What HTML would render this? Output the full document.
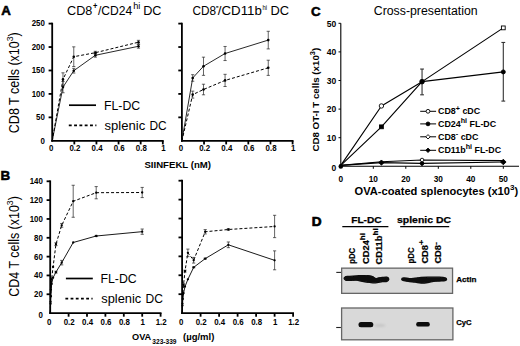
<!DOCTYPE html>
<html><head><meta charset="utf-8"><style>
html,body{margin:0;padding:0;background:#fff;}
body{width:520px;height:346px;overflow:hidden;font-family:"Liberation Sans", sans-serif;}
svg{display:block;}
</style></head><body>
<svg width="520" height="346" viewBox="0 0 520 346">
<g font-family='"Liberation Sans", sans-serif' fill="#000">
<text x="1.20" y="14.50" font-size="13.3" font-weight="bold" text-anchor="start" stroke="#000" stroke-width="0.55">A</text>
<text x="0.50" y="179.80" font-size="13.4" font-weight="bold" text-anchor="start" stroke="#000" stroke-width="0.55">B</text>
<text x="311.00" y="15.70" font-size="13.3" font-weight="bold" text-anchor="start" stroke="#000" stroke-width="0.55">C</text>
<text x="311.70" y="225.60" font-size="13.6" font-weight="bold" text-anchor="start" stroke="#000" stroke-width="0.7">D</text>
<line x1="52.20" y1="141.70" x2="52.20" y2="22.70" stroke="#000" stroke-width="1.8"/>
<line x1="51.30" y1="140.80" x2="163.70" y2="140.80" stroke="#000" stroke-width="1.8"/>
<line x1="48.60" y1="117.36" x2="52.20" y2="117.36" stroke="#000" stroke-width="1.8"/>
<line x1="48.60" y1="93.92" x2="52.20" y2="93.92" stroke="#000" stroke-width="1.8"/>
<line x1="48.60" y1="70.48" x2="52.20" y2="70.48" stroke="#000" stroke-width="1.8"/>
<line x1="48.60" y1="47.04" x2="52.20" y2="47.04" stroke="#000" stroke-width="1.8"/>
<line x1="48.60" y1="23.60" x2="52.20" y2="23.60" stroke="#000" stroke-width="1.8"/>
<line x1="74.32" y1="140.80" x2="74.32" y2="144.40" stroke="#000" stroke-width="1.8"/>
<line x1="96.44" y1="140.80" x2="96.44" y2="144.40" stroke="#000" stroke-width="1.8"/>
<line x1="118.56" y1="140.80" x2="118.56" y2="144.40" stroke="#000" stroke-width="1.8"/>
<line x1="140.68" y1="140.80" x2="140.68" y2="144.40" stroke="#000" stroke-width="1.8"/>
<line x1="162.80" y1="140.80" x2="162.80" y2="144.40" stroke="#000" stroke-width="1.8"/>
<text x="0.00" y="0.00" font-size="7.9" font-weight="bold" text-anchor="end" transform="translate(44.90,143.50) scale(1,1.1)">0</text>
<text x="0.00" y="0.00" font-size="7.9" font-weight="bold" text-anchor="end" transform="translate(44.90,120.06) scale(1,1.1)">50</text>
<text x="0.00" y="0.00" font-size="7.9" font-weight="bold" text-anchor="end" transform="translate(44.90,96.62) scale(1,1.1)">100</text>
<text x="0.00" y="0.00" font-size="7.9" font-weight="bold" text-anchor="end" transform="translate(44.90,73.18) scale(1,1.1)">150</text>
<text x="0.00" y="0.00" font-size="7.9" font-weight="bold" text-anchor="end" transform="translate(44.90,49.74) scale(1,1.1)">200</text>
<text x="0.00" y="0.00" font-size="7.9" font-weight="bold" text-anchor="end" transform="translate(44.90,26.30) scale(1,1.1)">250</text>
<text x="0.00" y="0.00" font-size="7.9" font-weight="bold" text-anchor="middle" transform="translate(51.20,150.80) scale(1,1.1)">0</text>
<text x="0.00" y="0.00" font-size="7.9" font-weight="bold" text-anchor="middle" transform="translate(74.92,150.80) scale(1,1.1)">0.2</text>
<text x="0.00" y="0.00" font-size="7.9" font-weight="bold" text-anchor="middle" transform="translate(97.04,150.80) scale(1,1.1)">0.4</text>
<text x="0.00" y="0.00" font-size="7.9" font-weight="bold" text-anchor="middle" transform="translate(119.16,150.80) scale(1,1.1)">0.6</text>
<text x="0.00" y="0.00" font-size="7.9" font-weight="bold" text-anchor="middle" transform="translate(141.28,150.80) scale(1,1.1)">0.8</text>
<text x="0.00" y="0.00" font-size="7.9" font-weight="bold" text-anchor="middle" transform="translate(163.40,150.80) scale(1,1.1)">1</text>
<line x1="181.90" y1="141.70" x2="181.90" y2="22.70" stroke="#000" stroke-width="1.8"/>
<line x1="181.00" y1="140.80" x2="293.50" y2="140.80" stroke="#000" stroke-width="1.8"/>
<line x1="178.30" y1="117.36" x2="181.90" y2="117.36" stroke="#000" stroke-width="1.8"/>
<line x1="178.30" y1="93.92" x2="181.90" y2="93.92" stroke="#000" stroke-width="1.8"/>
<line x1="178.30" y1="70.48" x2="181.90" y2="70.48" stroke="#000" stroke-width="1.8"/>
<line x1="178.30" y1="47.04" x2="181.90" y2="47.04" stroke="#000" stroke-width="1.8"/>
<line x1="178.30" y1="23.60" x2="181.90" y2="23.60" stroke="#000" stroke-width="1.8"/>
<line x1="204.04" y1="140.80" x2="204.04" y2="144.40" stroke="#000" stroke-width="1.8"/>
<line x1="226.18" y1="140.80" x2="226.18" y2="144.40" stroke="#000" stroke-width="1.8"/>
<line x1="248.32" y1="140.80" x2="248.32" y2="144.40" stroke="#000" stroke-width="1.8"/>
<line x1="270.46" y1="140.80" x2="270.46" y2="144.40" stroke="#000" stroke-width="1.8"/>
<line x1="292.60" y1="140.80" x2="292.60" y2="144.40" stroke="#000" stroke-width="1.8"/>
<text x="0.00" y="0.00" font-size="7.9" font-weight="bold" text-anchor="middle" transform="translate(180.90,150.80) scale(1,1.1)">0</text>
<text x="0.00" y="0.00" font-size="7.9" font-weight="bold" text-anchor="middle" transform="translate(204.64,150.80) scale(1,1.1)">0.2</text>
<text x="0.00" y="0.00" font-size="7.9" font-weight="bold" text-anchor="middle" transform="translate(226.78,150.80) scale(1,1.1)">0.4</text>
<text x="0.00" y="0.00" font-size="7.9" font-weight="bold" text-anchor="middle" transform="translate(248.92,150.80) scale(1,1.1)">0.6</text>
<text x="0.00" y="0.00" font-size="7.9" font-weight="bold" text-anchor="middle" transform="translate(271.06,150.80) scale(1,1.1)">0.8</text>
<text x="0.00" y="0.00" font-size="7.9" font-weight="bold" text-anchor="middle" transform="translate(293.20,150.80) scale(1,1.1)">1</text>
<polyline points="52.20,140.80 62.98,87.12 73.77,70.71 95.33,55.29 138.47,46.29" fill="none" stroke="#111" stroke-width="0.9" stroke-linejoin="round"/>
<polyline points="52.20,140.80 62.98,79.39 73.77,56.70 95.33,52.71 138.47,42.21" fill="none" stroke="#000" stroke-width="1.0" stroke-dasharray="3.0,2.0" stroke-linejoin="round"/>
<line x1="62.98" y1="81.50" x2="62.98" y2="92.75" stroke="#222" stroke-width="0.7"/>
<line x1="61.38" y1="81.50" x2="64.58" y2="81.50" stroke="#222" stroke-width="0.7"/>
<line x1="61.38" y1="92.75" x2="64.58" y2="92.75" stroke="#222" stroke-width="0.7"/>
<circle cx="62.98" cy="87.12" r="1.3" fill="#000"/>
<line x1="73.77" y1="68.37" x2="73.77" y2="73.06" stroke="#222" stroke-width="0.7"/>
<line x1="72.17" y1="68.37" x2="75.37" y2="68.37" stroke="#222" stroke-width="0.7"/>
<line x1="72.17" y1="73.06" x2="75.37" y2="73.06" stroke="#222" stroke-width="0.7"/>
<circle cx="73.77" cy="70.71" r="1.3" fill="#000"/>
<line x1="95.33" y1="53.42" x2="95.33" y2="57.17" stroke="#222" stroke-width="0.7"/>
<line x1="93.73" y1="53.42" x2="96.93" y2="53.42" stroke="#222" stroke-width="0.7"/>
<line x1="93.73" y1="57.17" x2="96.93" y2="57.17" stroke="#222" stroke-width="0.7"/>
<circle cx="95.33" cy="55.29" r="1.3" fill="#000"/>
<line x1="138.47" y1="44.41" x2="138.47" y2="48.17" stroke="#222" stroke-width="0.7"/>
<line x1="136.87" y1="44.41" x2="140.07" y2="44.41" stroke="#222" stroke-width="0.7"/>
<line x1="136.87" y1="48.17" x2="140.07" y2="48.17" stroke="#222" stroke-width="0.7"/>
<circle cx="138.47" cy="46.29" r="1.3" fill="#000"/>
<line x1="62.98" y1="72.82" x2="62.98" y2="85.95" stroke="#222" stroke-width="0.7"/>
<line x1="61.38" y1="72.82" x2="64.58" y2="72.82" stroke="#222" stroke-width="0.7"/>
<line x1="61.38" y1="85.95" x2="64.58" y2="85.95" stroke="#222" stroke-width="0.7"/>
<circle cx="62.98" cy="79.39" r="1.3" fill="#000"/>
<line x1="73.77" y1="46.85" x2="73.77" y2="66.54" stroke="#222" stroke-width="0.7"/>
<line x1="72.17" y1="46.85" x2="75.37" y2="46.85" stroke="#222" stroke-width="0.7"/>
<line x1="72.17" y1="66.54" x2="75.37" y2="66.54" stroke="#222" stroke-width="0.7"/>
<circle cx="73.77" cy="56.70" r="1.3" fill="#000"/>
<line x1="95.33" y1="51.31" x2="95.33" y2="54.12" stroke="#222" stroke-width="0.7"/>
<line x1="93.73" y1="51.31" x2="96.93" y2="51.31" stroke="#222" stroke-width="0.7"/>
<line x1="93.73" y1="54.12" x2="96.93" y2="54.12" stroke="#222" stroke-width="0.7"/>
<circle cx="95.33" cy="52.71" r="1.3" fill="#000"/>
<line x1="138.47" y1="40.34" x2="138.47" y2="44.09" stroke="#222" stroke-width="0.7"/>
<line x1="136.87" y1="40.34" x2="140.07" y2="40.34" stroke="#222" stroke-width="0.7"/>
<line x1="136.87" y1="44.09" x2="140.07" y2="44.09" stroke="#222" stroke-width="0.7"/>
<circle cx="138.47" cy="42.21" r="1.3" fill="#000"/>
<polyline points="181.90,140.80 192.69,77.98 203.49,66.26 225.07,53.51 268.25,40.10" fill="none" stroke="#111" stroke-width="0.9" stroke-linejoin="round"/>
<polyline points="181.90,140.80 192.69,94.62 203.49,89.51 225.07,80.42 268.25,67.81" fill="none" stroke="#000" stroke-width="1.0" stroke-dasharray="3.0,2.0" stroke-linejoin="round"/>
<line x1="192.69" y1="74.70" x2="192.69" y2="81.26" stroke="#222" stroke-width="0.7"/>
<line x1="191.09" y1="74.70" x2="194.29" y2="74.70" stroke="#222" stroke-width="0.7"/>
<line x1="191.09" y1="81.26" x2="194.29" y2="81.26" stroke="#222" stroke-width="0.7"/>
<circle cx="192.69" cy="77.98" r="1.3" fill="#000"/>
<line x1="203.49" y1="57.17" x2="203.49" y2="75.36" stroke="#222" stroke-width="0.7"/>
<line x1="201.89" y1="57.17" x2="205.09" y2="57.17" stroke="#222" stroke-width="0.7"/>
<line x1="201.89" y1="75.36" x2="205.09" y2="75.36" stroke="#222" stroke-width="0.7"/>
<circle cx="203.49" cy="66.26" r="1.3" fill="#000"/>
<line x1="225.07" y1="46.48" x2="225.07" y2="60.54" stroke="#222" stroke-width="0.7"/>
<line x1="223.47" y1="46.48" x2="226.67" y2="46.48" stroke="#222" stroke-width="0.7"/>
<line x1="223.47" y1="60.54" x2="226.67" y2="60.54" stroke="#222" stroke-width="0.7"/>
<circle cx="225.07" cy="53.51" r="1.3" fill="#000"/>
<line x1="268.25" y1="31.29" x2="268.25" y2="48.92" stroke="#222" stroke-width="0.7"/>
<line x1="266.65" y1="31.29" x2="269.85" y2="31.29" stroke="#222" stroke-width="0.7"/>
<line x1="266.65" y1="48.92" x2="269.85" y2="48.92" stroke="#222" stroke-width="0.7"/>
<circle cx="268.25" cy="40.10" r="1.3" fill="#000"/>
<line x1="192.69" y1="91.11" x2="192.69" y2="98.14" stroke="#222" stroke-width="0.7"/>
<line x1="191.09" y1="91.11" x2="194.29" y2="91.11" stroke="#222" stroke-width="0.7"/>
<line x1="191.09" y1="98.14" x2="194.29" y2="98.14" stroke="#222" stroke-width="0.7"/>
<circle cx="192.69" cy="94.62" r="1.3" fill="#000"/>
<line x1="203.49" y1="84.22" x2="203.49" y2="94.81" stroke="#222" stroke-width="0.7"/>
<line x1="201.89" y1="84.22" x2="205.09" y2="84.22" stroke="#222" stroke-width="0.7"/>
<line x1="201.89" y1="94.81" x2="205.09" y2="94.81" stroke="#222" stroke-width="0.7"/>
<circle cx="203.49" cy="89.51" r="1.3" fill="#000"/>
<line x1="225.07" y1="74.32" x2="225.07" y2="86.51" stroke="#222" stroke-width="0.7"/>
<line x1="223.47" y1="74.32" x2="226.67" y2="74.32" stroke="#222" stroke-width="0.7"/>
<line x1="223.47" y1="86.51" x2="226.67" y2="86.51" stroke="#222" stroke-width="0.7"/>
<circle cx="225.07" cy="80.42" r="1.3" fill="#000"/>
<line x1="268.25" y1="60.21" x2="268.25" y2="75.40" stroke="#222" stroke-width="0.7"/>
<line x1="266.65" y1="60.21" x2="269.85" y2="60.21" stroke="#222" stroke-width="0.7"/>
<line x1="266.65" y1="75.40" x2="269.85" y2="75.40" stroke="#222" stroke-width="0.7"/>
<circle cx="268.25" cy="67.81" r="1.3" fill="#000"/>
<text x="67.10" y="14.50" font-size="12.9" font-weight="normal" text-anchor="start" textLength="25.3" lengthAdjust="spacingAndGlyphs" >CD8</text>
<text x="92.90" y="8.80" font-size="8.6" font-weight="bold" text-anchor="start" textLength="4.4" lengthAdjust="spacingAndGlyphs" >+</text>
<text x="98.00" y="14.50" font-size="12.9" font-weight="normal" text-anchor="start" textLength="34.3" lengthAdjust="spacingAndGlyphs" >/CD24</text>
<text x="133.20" y="8.80" font-size="8.8" font-weight="normal" text-anchor="start" textLength="7.2" lengthAdjust="spacingAndGlyphs" >hi</text>
<text x="143.20" y="14.50" font-size="12.9" font-weight="normal" text-anchor="start" textLength="18.3" lengthAdjust="spacingAndGlyphs" >DC</text>
<text x="192.40" y="14.50" font-size="12.9" font-weight="normal" text-anchor="start" textLength="23.6" lengthAdjust="spacingAndGlyphs" >CD8</text>
<line x1="216.20" y1="6.90" x2="218.40" y2="6.90" stroke="#000" stroke-width="1.2"/>
<text x="217.80" y="14.50" font-size="12.9" font-weight="normal" text-anchor="start" textLength="44.0" lengthAdjust="spacingAndGlyphs" >/CD11b</text>
<text x="262.50" y="10.00" font-size="6.8" font-weight="normal" text-anchor="start" textLength="4.6" lengthAdjust="spacingAndGlyphs" >hi</text>
<text x="270.50" y="14.50" font-size="12.9" font-weight="normal" text-anchor="start" textLength="18.6" lengthAdjust="spacingAndGlyphs" >DC</text>
<text x="0.00" y="0.00" font-size="12.5" font-weight="normal" text-anchor="middle" transform="translate(18.6,82.7) rotate(-90) scale(1,1.13)">CD8 T cells (x10<tspan dy="-5" font-size="8.8">3</tspan><tspan dy="5">)</tspan></text>
<text x="144.40" y="167.80" font-size="9.4" font-weight="bold" text-anchor="start" textLength="66.6" lengthAdjust="spacingAndGlyphs">SIINFEKL (nM)</text>
<line x1="69.00" y1="105.20" x2="96.00" y2="105.20" stroke="#000" stroke-width="1.7"/>
<line x1="68.80" y1="125.30" x2="96.40" y2="125.30" stroke="#000" stroke-width="1.7" stroke-dasharray="2.9,2.4"/>
<text x="104.00" y="110.10" font-size="12.3" font-weight="normal" text-anchor="start" >FL-DC</text>
<text x="104.60" y="130.20" font-size="12.3" font-weight="normal" text-anchor="start" textLength="40.6" lengthAdjust="spacingAndGlyphs">splenic</text>
<text x="149.40" y="130.20" font-size="12.3" font-weight="normal" text-anchor="start" textLength="17.2" lengthAdjust="spacingAndGlyphs">DC</text>
<line x1="50.20" y1="314.00" x2="50.20" y2="180.40" stroke="#000" stroke-width="1.8"/>
<line x1="49.30" y1="313.10" x2="161.50" y2="313.10" stroke="#000" stroke-width="1.8"/>
<line x1="46.60" y1="294.27" x2="50.20" y2="294.27" stroke="#000" stroke-width="1.8"/>
<line x1="46.60" y1="275.44" x2="50.20" y2="275.44" stroke="#000" stroke-width="1.8"/>
<line x1="46.60" y1="256.62" x2="50.20" y2="256.62" stroke="#000" stroke-width="1.8"/>
<line x1="46.60" y1="237.79" x2="50.20" y2="237.79" stroke="#000" stroke-width="1.8"/>
<line x1="46.60" y1="218.96" x2="50.20" y2="218.96" stroke="#000" stroke-width="1.8"/>
<line x1="46.60" y1="200.13" x2="50.20" y2="200.13" stroke="#000" stroke-width="1.8"/>
<line x1="46.60" y1="181.30" x2="50.20" y2="181.30" stroke="#000" stroke-width="1.8"/>
<line x1="68.60" y1="313.10" x2="68.60" y2="316.70" stroke="#000" stroke-width="1.8"/>
<line x1="87.00" y1="313.10" x2="87.00" y2="316.70" stroke="#000" stroke-width="1.8"/>
<line x1="105.40" y1="313.10" x2="105.40" y2="316.70" stroke="#000" stroke-width="1.8"/>
<line x1="123.80" y1="313.10" x2="123.80" y2="316.70" stroke="#000" stroke-width="1.8"/>
<line x1="142.20" y1="313.10" x2="142.20" y2="316.70" stroke="#000" stroke-width="1.8"/>
<line x1="160.60" y1="313.10" x2="160.60" y2="316.70" stroke="#000" stroke-width="1.8"/>
<text x="0.00" y="0.00" font-size="7.9" font-weight="bold" text-anchor="end" transform="translate(42.90,318.10) scale(1,1.1)">0</text>
<text x="0.00" y="0.00" font-size="7.9" font-weight="bold" text-anchor="end" transform="translate(42.90,297.27) scale(1,1.1)">20</text>
<text x="0.00" y="0.00" font-size="7.9" font-weight="bold" text-anchor="end" transform="translate(42.90,278.44) scale(1,1.1)">40</text>
<text x="0.00" y="0.00" font-size="7.9" font-weight="bold" text-anchor="end" transform="translate(42.90,259.62) scale(1,1.1)">60</text>
<text x="0.00" y="0.00" font-size="7.9" font-weight="bold" text-anchor="end" transform="translate(42.90,240.79) scale(1,1.1)">80</text>
<text x="0.00" y="0.00" font-size="7.9" font-weight="bold" text-anchor="end" transform="translate(42.90,221.96) scale(1,1.1)">100</text>
<text x="0.00" y="0.00" font-size="7.9" font-weight="bold" text-anchor="end" transform="translate(42.90,203.13) scale(1,1.1)">120</text>
<text x="0.00" y="0.00" font-size="7.9" font-weight="bold" text-anchor="end" transform="translate(42.90,184.30) scale(1,1.1)">140</text>
<text x="0.00" y="0.00" font-size="7.9" font-weight="bold" text-anchor="middle" transform="translate(49.20,325.10) scale(1,1.1)">0</text>
<text x="0.00" y="0.00" font-size="7.9" font-weight="bold" text-anchor="middle" transform="translate(69.20,325.10) scale(1,1.1)">0.2</text>
<text x="0.00" y="0.00" font-size="7.9" font-weight="bold" text-anchor="middle" transform="translate(87.60,325.10) scale(1,1.1)">0.4</text>
<text x="0.00" y="0.00" font-size="7.9" font-weight="bold" text-anchor="middle" transform="translate(106.00,325.10) scale(1,1.1)">0.6</text>
<text x="0.00" y="0.00" font-size="7.9" font-weight="bold" text-anchor="middle" transform="translate(124.40,325.10) scale(1,1.1)">0.8</text>
<text x="0.00" y="0.00" font-size="7.9" font-weight="bold" text-anchor="middle" transform="translate(142.80,325.10) scale(1,1.1)">1</text>
<text x="0.00" y="0.00" font-size="7.9" font-weight="bold" text-anchor="middle" transform="translate(161.20,325.10) scale(1,1.1)">1.2</text>
<line x1="182.10" y1="314.00" x2="182.10" y2="179.80" stroke="#000" stroke-width="1.8"/>
<line x1="181.20" y1="313.10" x2="294.00" y2="313.10" stroke="#000" stroke-width="1.8"/>
<line x1="178.50" y1="294.19" x2="182.10" y2="294.19" stroke="#000" stroke-width="1.8"/>
<line x1="178.50" y1="275.27" x2="182.10" y2="275.27" stroke="#000" stroke-width="1.8"/>
<line x1="178.50" y1="256.36" x2="182.10" y2="256.36" stroke="#000" stroke-width="1.8"/>
<line x1="178.50" y1="237.44" x2="182.10" y2="237.44" stroke="#000" stroke-width="1.8"/>
<line x1="178.50" y1="218.53" x2="182.10" y2="218.53" stroke="#000" stroke-width="1.8"/>
<line x1="178.50" y1="199.62" x2="182.10" y2="199.62" stroke="#000" stroke-width="1.8"/>
<line x1="178.50" y1="180.70" x2="182.10" y2="180.70" stroke="#000" stroke-width="1.8"/>
<line x1="200.60" y1="313.10" x2="200.60" y2="316.70" stroke="#000" stroke-width="1.8"/>
<line x1="219.10" y1="313.10" x2="219.10" y2="316.70" stroke="#000" stroke-width="1.8"/>
<line x1="237.60" y1="313.10" x2="237.60" y2="316.70" stroke="#000" stroke-width="1.8"/>
<line x1="256.10" y1="313.10" x2="256.10" y2="316.70" stroke="#000" stroke-width="1.8"/>
<line x1="274.60" y1="313.10" x2="274.60" y2="316.70" stroke="#000" stroke-width="1.8"/>
<line x1="293.10" y1="313.10" x2="293.10" y2="316.70" stroke="#000" stroke-width="1.8"/>
<text x="0.00" y="0.00" font-size="7.9" font-weight="bold" text-anchor="middle" transform="translate(181.10,325.10) scale(1,1.1)">0</text>
<text x="0.00" y="0.00" font-size="7.9" font-weight="bold" text-anchor="middle" transform="translate(201.20,325.10) scale(1,1.1)">0.2</text>
<text x="0.00" y="0.00" font-size="7.9" font-weight="bold" text-anchor="middle" transform="translate(219.70,325.10) scale(1,1.1)">0.4</text>
<text x="0.00" y="0.00" font-size="7.9" font-weight="bold" text-anchor="middle" transform="translate(238.20,325.10) scale(1,1.1)">0.6</text>
<text x="0.00" y="0.00" font-size="7.9" font-weight="bold" text-anchor="middle" transform="translate(256.70,325.10) scale(1,1.1)">0.8</text>
<text x="0.00" y="0.00" font-size="7.9" font-weight="bold" text-anchor="middle" transform="translate(275.20,325.10) scale(1,1.1)">1</text>
<text x="0.00" y="0.00" font-size="7.9" font-weight="bold" text-anchor="middle" transform="translate(293.70,325.10) scale(1,1.1)">1.2</text>
<polyline points="50.20,313.10 50.56,303.69 50.92,296.15 51.64,283.92 53.08,277.70 55.95,272.15 61.70,262.64 73.20,242.50 96.20,236.00 142.20,231.67" fill="none" stroke="#000" stroke-width="0.9" stroke-linejoin="round"/>
<polyline points="50.20,313.10 50.56,301.80 50.92,289.56 51.64,279.21 53.08,266.97 55.95,244.19 61.70,225.36 73.20,201.26 96.20,192.69 142.20,192.51" fill="none" stroke="#000" stroke-width="1.0" stroke-dasharray="3.0,2.0" stroke-linejoin="round"/>
<circle cx="50.56" cy="303.69" r="1.15" fill="#000"/>
<circle cx="50.92" cy="296.15" r="1.15" fill="#000"/>
<circle cx="51.64" cy="283.92" r="1.15" fill="#000"/>
<circle cx="53.08" cy="277.70" r="1.15" fill="#000"/>
<line x1="55.95" y1="271.21" x2="55.95" y2="273.09" stroke="#222" stroke-width="0.7"/>
<line x1="54.35" y1="271.21" x2="57.55" y2="271.21" stroke="#222" stroke-width="0.7"/>
<line x1="54.35" y1="273.09" x2="57.55" y2="273.09" stroke="#222" stroke-width="0.7"/>
<circle cx="55.95" cy="272.15" r="1.15" fill="#000"/>
<line x1="61.70" y1="260.38" x2="61.70" y2="264.90" stroke="#222" stroke-width="0.7"/>
<line x1="60.10" y1="260.38" x2="63.30" y2="260.38" stroke="#222" stroke-width="0.7"/>
<line x1="60.10" y1="264.90" x2="63.30" y2="264.90" stroke="#222" stroke-width="0.7"/>
<circle cx="61.70" cy="262.64" r="1.15" fill="#000"/>
<circle cx="73.20" cy="242.50" r="1.15" fill="#000"/>
<line x1="96.20" y1="235.43" x2="96.20" y2="236.56" stroke="#222" stroke-width="0.7"/>
<line x1="94.60" y1="235.43" x2="97.80" y2="235.43" stroke="#222" stroke-width="0.7"/>
<line x1="94.60" y1="236.56" x2="97.80" y2="236.56" stroke="#222" stroke-width="0.7"/>
<circle cx="96.20" cy="236.00" r="1.15" fill="#000"/>
<line x1="142.20" y1="229.03" x2="142.20" y2="234.30" stroke="#222" stroke-width="0.7"/>
<line x1="140.60" y1="229.03" x2="143.80" y2="229.03" stroke="#222" stroke-width="0.7"/>
<line x1="140.60" y1="234.30" x2="143.80" y2="234.30" stroke="#222" stroke-width="0.7"/>
<circle cx="142.20" cy="231.67" r="1.15" fill="#000"/>
<circle cx="50.56" cy="301.80" r="1.15" fill="#000"/>
<circle cx="50.92" cy="289.56" r="1.15" fill="#000"/>
<circle cx="51.64" cy="279.21" r="1.15" fill="#000"/>
<circle cx="53.08" cy="266.97" r="1.15" fill="#000"/>
<line x1="55.95" y1="242.78" x2="55.95" y2="245.60" stroke="#222" stroke-width="0.7"/>
<line x1="54.35" y1="242.78" x2="57.55" y2="242.78" stroke="#222" stroke-width="0.7"/>
<line x1="54.35" y1="245.60" x2="57.55" y2="245.60" stroke="#222" stroke-width="0.7"/>
<circle cx="55.95" cy="244.19" r="1.15" fill="#000"/>
<line x1="61.70" y1="223.48" x2="61.70" y2="227.24" stroke="#222" stroke-width="0.7"/>
<line x1="60.10" y1="223.48" x2="63.30" y2="223.48" stroke="#222" stroke-width="0.7"/>
<line x1="60.10" y1="227.24" x2="63.30" y2="227.24" stroke="#222" stroke-width="0.7"/>
<circle cx="61.70" cy="225.36" r="1.15" fill="#000"/>
<line x1="73.20" y1="185.26" x2="73.20" y2="217.27" stroke="#222" stroke-width="0.7"/>
<line x1="71.60" y1="185.26" x2="74.80" y2="185.26" stroke="#222" stroke-width="0.7"/>
<line x1="71.60" y1="217.27" x2="74.80" y2="217.27" stroke="#222" stroke-width="0.7"/>
<circle cx="73.20" cy="201.26" r="1.15" fill="#000"/>
<line x1="96.20" y1="186.58" x2="96.20" y2="198.81" stroke="#222" stroke-width="0.7"/>
<line x1="94.60" y1="186.58" x2="97.80" y2="186.58" stroke="#222" stroke-width="0.7"/>
<line x1="94.60" y1="198.81" x2="97.80" y2="198.81" stroke="#222" stroke-width="0.7"/>
<circle cx="96.20" cy="192.69" r="1.15" fill="#000"/>
<line x1="142.20" y1="187.42" x2="142.20" y2="197.59" stroke="#222" stroke-width="0.7"/>
<line x1="140.60" y1="187.42" x2="143.80" y2="187.42" stroke="#222" stroke-width="0.7"/>
<line x1="140.60" y1="197.59" x2="143.80" y2="197.59" stroke="#222" stroke-width="0.7"/>
<circle cx="142.20" cy="192.51" r="1.15" fill="#000"/>
<polyline points="182.10,313.10 182.46,305.53 182.82,298.91 183.54,293.24 184.99,286.62 187.88,279.34 193.66,267.33 205.22,258.63 228.35,244.82 274.60,260.33" fill="none" stroke="#000" stroke-width="0.9" stroke-linejoin="round"/>
<polyline points="182.10,313.10 182.46,303.64 182.82,294.19 183.54,284.73 184.99,271.11 187.88,252.86 193.66,260.24 205.22,231.77 228.35,229.50 274.60,226.47" fill="none" stroke="#000" stroke-width="1.0" stroke-dasharray="3.0,2.0" stroke-linejoin="round"/>
<circle cx="182.46" cy="305.53" r="1.15" fill="#000"/>
<circle cx="182.82" cy="298.91" r="1.15" fill="#000"/>
<circle cx="183.54" cy="293.24" r="1.15" fill="#000"/>
<circle cx="184.99" cy="286.62" r="1.15" fill="#000"/>
<circle cx="187.88" cy="279.34" r="1.15" fill="#000"/>
<line x1="193.66" y1="266.86" x2="193.66" y2="267.80" stroke="#222" stroke-width="0.7"/>
<line x1="192.06" y1="266.86" x2="195.26" y2="266.86" stroke="#222" stroke-width="0.7"/>
<line x1="192.06" y1="267.80" x2="195.26" y2="267.80" stroke="#222" stroke-width="0.7"/>
<circle cx="193.66" cy="267.33" r="1.15" fill="#000"/>
<line x1="205.22" y1="258.15" x2="205.22" y2="259.10" stroke="#222" stroke-width="0.7"/>
<line x1="203.62" y1="258.15" x2="206.82" y2="258.15" stroke="#222" stroke-width="0.7"/>
<line x1="203.62" y1="259.10" x2="206.82" y2="259.10" stroke="#222" stroke-width="0.7"/>
<circle cx="205.22" cy="258.63" r="1.15" fill="#000"/>
<line x1="228.35" y1="241.98" x2="228.35" y2="247.66" stroke="#222" stroke-width="0.7"/>
<line x1="226.75" y1="241.98" x2="229.95" y2="241.98" stroke="#222" stroke-width="0.7"/>
<line x1="226.75" y1="247.66" x2="229.95" y2="247.66" stroke="#222" stroke-width="0.7"/>
<circle cx="228.35" cy="244.82" r="1.15" fill="#000"/>
<line x1="274.60" y1="250.87" x2="274.60" y2="269.79" stroke="#222" stroke-width="0.7"/>
<line x1="273.00" y1="250.87" x2="276.20" y2="250.87" stroke="#222" stroke-width="0.7"/>
<line x1="273.00" y1="269.79" x2="276.20" y2="269.79" stroke="#222" stroke-width="0.7"/>
<circle cx="274.60" cy="260.33" r="1.15" fill="#000"/>
<circle cx="182.46" cy="303.64" r="1.15" fill="#000"/>
<circle cx="182.82" cy="294.19" r="1.15" fill="#000"/>
<line x1="183.54" y1="283.78" x2="183.54" y2="285.67" stroke="#222" stroke-width="0.7"/>
<line x1="181.94" y1="283.78" x2="185.14" y2="283.78" stroke="#222" stroke-width="0.7"/>
<line x1="181.94" y1="285.67" x2="185.14" y2="285.67" stroke="#222" stroke-width="0.7"/>
<circle cx="183.54" cy="284.73" r="1.15" fill="#000"/>
<line x1="184.99" y1="270.17" x2="184.99" y2="272.06" stroke="#222" stroke-width="0.7"/>
<line x1="183.39" y1="270.17" x2="186.59" y2="270.17" stroke="#222" stroke-width="0.7"/>
<line x1="183.39" y1="272.06" x2="186.59" y2="272.06" stroke="#222" stroke-width="0.7"/>
<circle cx="184.99" cy="271.11" r="1.15" fill="#000"/>
<line x1="187.88" y1="249.08" x2="187.88" y2="256.64" stroke="#222" stroke-width="0.7"/>
<line x1="186.28" y1="249.08" x2="189.48" y2="249.08" stroke="#222" stroke-width="0.7"/>
<line x1="186.28" y1="256.64" x2="189.48" y2="256.64" stroke="#222" stroke-width="0.7"/>
<circle cx="187.88" cy="252.86" r="1.15" fill="#000"/>
<line x1="193.66" y1="257.40" x2="193.66" y2="263.07" stroke="#222" stroke-width="0.7"/>
<line x1="192.06" y1="257.40" x2="195.26" y2="257.40" stroke="#222" stroke-width="0.7"/>
<line x1="192.06" y1="263.07" x2="195.26" y2="263.07" stroke="#222" stroke-width="0.7"/>
<circle cx="193.66" cy="260.24" r="1.15" fill="#000"/>
<line x1="205.22" y1="229.59" x2="205.22" y2="233.94" stroke="#222" stroke-width="0.7"/>
<line x1="203.62" y1="229.59" x2="206.82" y2="229.59" stroke="#222" stroke-width="0.7"/>
<line x1="203.62" y1="233.94" x2="206.82" y2="233.94" stroke="#222" stroke-width="0.7"/>
<circle cx="205.22" cy="231.77" r="1.15" fill="#000"/>
<line x1="228.35" y1="228.74" x2="228.35" y2="230.26" stroke="#222" stroke-width="0.7"/>
<line x1="226.75" y1="228.74" x2="229.95" y2="228.74" stroke="#222" stroke-width="0.7"/>
<line x1="226.75" y1="230.26" x2="229.95" y2="230.26" stroke="#222" stroke-width="0.7"/>
<circle cx="228.35" cy="229.50" r="1.15" fill="#000"/>
<line x1="274.60" y1="215.31" x2="274.60" y2="237.63" stroke="#222" stroke-width="0.7"/>
<line x1="273.00" y1="215.31" x2="276.20" y2="215.31" stroke="#222" stroke-width="0.7"/>
<line x1="273.00" y1="237.63" x2="276.20" y2="237.63" stroke="#222" stroke-width="0.7"/>
<circle cx="274.60" cy="226.47" r="1.15" fill="#000"/>
<text x="0.00" y="0.00" font-size="12.45" font-weight="normal" text-anchor="middle" transform="translate(18.5,246.4) rotate(-90) scale(1,1.13)">CD4 T cells (x10<tspan dy="-5" font-size="8.8">3</tspan><tspan dy="5">)</tspan></text>
<text x="132.00" y="340.00" font-size="9.2" font-weight="bold" text-anchor="start" >OVA</text>
<text x="152.30" y="344.20" font-size="6.4" font-weight="bold" text-anchor="start" textLength="24.2" lengthAdjust="spacingAndGlyphs">323-339</text>
<text x="183.00" y="340.00" font-size="9.2" font-weight="bold" text-anchor="start" textLength="31.4" lengthAdjust="spacingAndGlyphs">(µg/ml)</text>
<line x1="65.90" y1="278.50" x2="92.80" y2="278.50" stroke="#000" stroke-width="1.7"/>
<line x1="65.40" y1="298.70" x2="92.60" y2="298.70" stroke="#000" stroke-width="1.7" stroke-dasharray="2.8,2.4"/>
<text x="100.50" y="283.20" font-size="12.3" font-weight="normal" text-anchor="start" >FL-DC</text>
<text x="101.30" y="303.10" font-size="12.3" font-weight="normal" text-anchor="start" textLength="40.0" lengthAdjust="spacingAndGlyphs">splenic</text>
<text x="145.60" y="303.10" font-size="12.3" font-weight="normal" text-anchor="start" textLength="17.4" lengthAdjust="spacingAndGlyphs">DC</text>
<line x1="340.80" y1="166.80" x2="340.80" y2="23.30" stroke="#000" stroke-width="1.1"/>
<line x1="340.30" y1="166.30" x2="519.00" y2="166.30" stroke="#000" stroke-width="1.1"/>
<line x1="338.50" y1="137.70" x2="340.80" y2="137.70" stroke="#000" stroke-width="1.0"/>
<line x1="338.50" y1="109.10" x2="340.80" y2="109.10" stroke="#000" stroke-width="1.0"/>
<line x1="338.50" y1="80.50" x2="340.80" y2="80.50" stroke="#000" stroke-width="1.0"/>
<line x1="338.50" y1="51.90" x2="340.80" y2="51.90" stroke="#000" stroke-width="1.0"/>
<line x1="338.50" y1="23.30" x2="340.80" y2="23.30" stroke="#000" stroke-width="1.0"/>
<text x="336.30" y="171.00" font-size="8.5" font-weight="bold" text-anchor="end" >0</text>
<text x="336.30" y="141.00" font-size="8.5" font-weight="bold" text-anchor="end" >10</text>
<text x="336.30" y="112.40" font-size="8.5" font-weight="bold" text-anchor="end" >20</text>
<text x="336.30" y="83.80" font-size="8.5" font-weight="bold" text-anchor="end" >30</text>
<text x="336.30" y="55.20" font-size="8.5" font-weight="bold" text-anchor="end" >40</text>
<text x="336.30" y="26.60" font-size="8.5" font-weight="bold" text-anchor="end" >50</text>
<line x1="373.30" y1="166.30" x2="373.30" y2="168.80" stroke="#000" stroke-width="1.0"/>
<line x1="405.80" y1="166.30" x2="405.80" y2="168.80" stroke="#000" stroke-width="1.0"/>
<line x1="438.30" y1="166.30" x2="438.30" y2="168.80" stroke="#000" stroke-width="1.0"/>
<line x1="470.80" y1="166.30" x2="470.80" y2="168.80" stroke="#000" stroke-width="1.0"/>
<line x1="503.30" y1="166.30" x2="503.30" y2="168.80" stroke="#000" stroke-width="1.0"/>
<text x="340.80" y="181.80" font-size="8.3" font-weight="bold" text-anchor="middle" >0</text>
<text x="373.30" y="181.80" font-size="8.3" font-weight="bold" text-anchor="middle" >10</text>
<text x="405.80" y="181.80" font-size="8.3" font-weight="bold" text-anchor="middle" >20</text>
<text x="438.30" y="181.80" font-size="8.3" font-weight="bold" text-anchor="middle" >30</text>
<text x="470.80" y="181.80" font-size="8.3" font-weight="bold" text-anchor="middle" >40</text>
<text x="503.30" y="181.80" font-size="8.3" font-weight="bold" text-anchor="middle" >50</text>
<polyline points="340.80,165.44 381.43,105.95 422.05,81.64 503.30,27.88" fill="none" stroke="#000" stroke-width="1.15" stroke-linejoin="round"/>
<polyline points="340.80,165.44 381.43,126.83 422.05,81.64 503.30,71.92" fill="none" stroke="#000" stroke-width="1.15" stroke-linejoin="round"/>
<polyline points="340.80,165.44 381.43,161.72 422.05,160.01 503.30,160.58" fill="none" stroke="#000" stroke-width="1.15" stroke-linejoin="round"/>
<polyline points="340.80,165.44 381.43,162.58 422.05,163.44 503.30,162.01" fill="none" stroke="#000" stroke-width="1.15" stroke-linejoin="round"/>
<line x1="422.05" y1="69.06" x2="422.05" y2="94.80" stroke="#333" stroke-width="1.1"/>
<line x1="420.15" y1="69.06" x2="423.95" y2="69.06" stroke="#333" stroke-width="1.1"/>
<line x1="420.15" y1="94.80" x2="423.95" y2="94.80" stroke="#333" stroke-width="1.1"/>
<line x1="503.30" y1="42.46" x2="503.30" y2="101.09" stroke="#333" stroke-width="1.1"/>
<line x1="501.40" y1="42.46" x2="505.20" y2="42.46" stroke="#333" stroke-width="1.1"/>
<line x1="501.40" y1="101.09" x2="505.20" y2="101.09" stroke="#333" stroke-width="1.1"/>
<polygon points="381.43,159.98 384.03,162.58 381.43,165.18 378.82,162.58" fill="#000" stroke="#000" stroke-width="0.9"/>
<polygon points="422.05,161.04 424.45,163.44 422.05,165.84 419.65,163.44" fill="#000" stroke="#000" stroke-width="0.9"/>
<polygon points="503.30,159.21 506.10,162.01 503.30,164.81 500.50,162.01" fill="#000" stroke="#000" stroke-width="0.9"/>
<circle cx="422.05" cy="160.01" r="1.8" fill="#fff" stroke="#000" stroke-width="0.9"/>
<rect x="379.53" y="124.93" width="3.8" height="3.8" fill="#000" stroke="#000" stroke-width="0.9"/>
<circle cx="381.43" cy="105.95" r="2.2" fill="#fff" stroke="#000" stroke-width="0.9"/>
<circle cx="422.05" cy="81.64" r="2.3" fill="#000" stroke="#000" stroke-width="0.9"/>
<circle cx="503.30" cy="71.92" r="2.0" fill="#000" stroke="#000" stroke-width="0.9"/>
<rect x="501.40" y="25.98" width="3.8" height="3.8" fill="#fff" stroke="#000" stroke-width="0.9"/>
<circle cx="340.80" cy="166.40" r="2.3" fill="#000"/>
<line x1="420.20" y1="111.30" x2="436.10" y2="111.30" stroke="#000" stroke-width="1.0"/>
<circle cx="428.00" cy="111.30" r="1.9" fill="#fff" stroke="#000" stroke-width="0.9"/>
<text x="438.00" y="114.00" font-size="8.9" font-weight="bold" text-anchor="start" >CD8<tspan dy="-3.5" font-size="7.2">+</tspan><tspan dy="3.5"> cDC</tspan></text>
<line x1="420.20" y1="123.90" x2="436.10" y2="123.90" stroke="#000" stroke-width="1.0"/>
<circle cx="428.00" cy="123.90" r="1.9" fill="#000" stroke="#000" stroke-width="0.9"/>
<text x="438.00" y="126.60" font-size="8.9" font-weight="bold" text-anchor="start" >CD24<tspan dy="-3.8" font-size="7.2">hi</tspan><tspan dy="3.8"> FL-DC</tspan></text>
<line x1="420.20" y1="136.80" x2="436.10" y2="136.80" stroke="#000" stroke-width="1.0"/>
<polygon points="428.00,134.60 430.20,136.80 428.00,139.00 425.80,136.80" fill="#fff" stroke="#000" stroke-width="0.9"/>
<text x="438.00" y="139.50" font-size="8.9" font-weight="bold" text-anchor="start" >CD8<tspan dy="-3.5" font-size="7.2">-</tspan><tspan dy="3.5"> cDC</tspan></text>
<line x1="420.20" y1="150.30" x2="436.10" y2="150.30" stroke="#000" stroke-width="1.0"/>
<polygon points="428.00,148.10 430.20,150.30 428.00,152.50 425.80,150.30" fill="#000" stroke="#000" stroke-width="0.9"/>
<text x="438.00" y="153.00" font-size="8.9" font-weight="bold" text-anchor="start" >CD11b<tspan dy="-3.8" font-size="7.2">hi</tspan><tspan dy="3.8"> FL-DC</tspan></text>
<text x="373.80" y="15.30" font-size="12.3" font-weight="normal" text-anchor="start" >Cross-presentation</text>
<text x="0.00" y="0.00" font-size="9.2" font-weight="bold" text-anchor="middle" transform="translate(319.2,99.7) rotate(-90)" textLength="103.8" lengthAdjust="spacingAndGlyphs">CD8 OT-I T cells (x10<tspan dy="-3.8" font-size="7">3</tspan><tspan dy="3.8">)</tspan></text>
<text x="354.60" y="194.50" font-size="11.0" font-weight="bold" text-anchor="start" textLength="163.6" lengthAdjust="spacingAndGlyphs">OVA-coated splenocytes (x10<tspan dy="-4.2" font-size="8">3</tspan><tspan dy="4.2">)</tspan></text>
<text x="351.20" y="222.70" font-size="9.7" font-weight="bold" text-anchor="start" textLength="30.4" lengthAdjust="spacingAndGlyphs" stroke="#000" stroke-width="0.25">FL-DC</text>
<text x="397.00" y="222.70" font-size="9.7" font-weight="bold" text-anchor="start" textLength="54" lengthAdjust="spacingAndGlyphs" stroke="#000" stroke-width="0.25">splenic DC</text>
<line x1="342.30" y1="226.60" x2="388.40" y2="226.60" stroke="#000" stroke-width="1.1"/>
<line x1="400.20" y1="226.60" x2="449.20" y2="226.60" stroke="#000" stroke-width="1.1"/>
<text x="0.00" y="0.00" font-size="9.3" font-weight="bold" text-anchor="start" transform="translate(354.60,263.80) rotate(-90) scale(1,0.88)" stroke="#000" stroke-width="0.2" textLength="16" lengthAdjust="spacingAndGlyphs">pDC</text>
<text x="0.00" y="0.00" font-size="9.3" font-weight="bold" text-anchor="start" transform="translate(369.00,263.90) rotate(-90) scale(1,0.88)" stroke="#000" stroke-width="0.2">CD24<tspan dy="-4.6" font-size="8.2">hi</tspan></text>
<text x="0.00" y="0.00" font-size="9.3" font-weight="bold" text-anchor="start" transform="translate(382.00,264.50) rotate(-90) scale(1,0.88)" stroke="#000" stroke-width="0.2">CD11b<tspan dy="-4.6" font-size="8.2">hi</tspan></text>
<text x="0.00" y="0.00" font-size="9.3" font-weight="bold" text-anchor="start" transform="translate(413.60,263.60) rotate(-90) scale(1,0.88)" stroke="#000" stroke-width="0.2" textLength="16.2" lengthAdjust="spacingAndGlyphs">pDC</text>
<text x="0.00" y="0.00" font-size="9.3" font-weight="bold" text-anchor="start" transform="translate(427.60,263.60) rotate(-90) scale(1,0.88)" stroke="#000" stroke-width="0.2">CD8<tspan dy="-4.4" font-size="9">+</tspan></text>
<text x="0.00" y="0.00" font-size="9.3" font-weight="bold" text-anchor="start" transform="translate(441.40,263.60) rotate(-90) scale(1,0.88)" stroke="#000" stroke-width="0.2">CD8<tspan dy="-4.4" font-size="9">-</tspan></text>
<defs><filter id="bl" x="-20%" y="-80%" width="140%" height="260%"><feGaussianBlur stdDeviation="0.45"/></filter><filter id="bl2" x="-30%" y="-100%" width="160%" height="300%"><feGaussianBlur stdDeviation="1.3"/></filter></defs>
<rect x="341.65" y="268.15" width="110.9" height="25.2" fill="#d9d9d9" stroke="#666" stroke-width="1.3"/>
<rect x="341.6" y="308.0" width="111.3" height="31.8" fill="#d9d9d9" stroke="#666" stroke-width="1.3"/>
<line x1="336.30" y1="272.40" x2="341.00" y2="272.40" stroke="#222" stroke-width="1.1"/>
<line x1="336.20" y1="327.50" x2="340.90" y2="327.50" stroke="#222" stroke-width="1.1"/>
<path d="M344.10,278.30 C344.10,277.75 344.88,277.03 345.50,276.70 C346.12,276.37 345.98,276.43 347.80,276.30 C349.62,276.17 354.00,276.02 356.40,275.90 C358.80,275.78 359.98,275.62 362.20,275.60 C364.42,275.58 367.97,275.63 369.70,275.80 C371.43,275.97 371.65,276.15 372.60,276.60 C373.55,277.05 374.42,278.27 375.40,278.50 C376.38,278.73 377.35,278.17 378.50,278.00 C379.65,277.83 380.90,277.63 382.30,277.50 C383.70,277.37 385.82,276.90 386.90,277.20 C387.98,277.50 388.80,278.62 388.80,279.30 C388.80,279.98 387.98,280.92 386.90,281.30 C385.82,281.68 384.22,281.35 382.30,281.60 C380.38,281.85 377.50,282.67 375.40,282.80 C373.30,282.93 371.90,282.65 369.70,282.40 C367.50,282.15 364.42,281.67 362.20,281.30 C359.98,280.93 358.80,280.35 356.40,280.20 C354.00,280.05 349.62,280.43 347.80,280.40 C345.98,280.37 346.12,280.35 345.50,280.00 C344.88,279.65 344.10,278.85 344.10,278.30 Z" fill="#080808" stroke="#080808" stroke-width="1.3" stroke-linejoin="round" filter="url(#bl)"/>
<path d="M401.70,279.30 C401.70,278.85 402.50,278.12 403.80,278.00 C405.10,277.88 407.58,278.58 409.50,278.60 C411.42,278.62 413.37,278.28 415.30,278.10 C417.23,277.92 419.02,277.65 421.10,277.50 C423.18,277.35 425.73,277.25 427.80,277.20 C429.87,277.15 431.58,277.20 433.50,277.20 C435.42,277.20 437.37,277.10 439.30,277.20 C441.23,277.30 443.88,277.47 445.10,277.80 C446.32,278.13 446.60,278.72 446.60,279.20 C446.60,279.68 446.32,280.40 445.10,280.70 C443.88,281.00 441.23,280.90 439.30,281.00 C437.37,281.10 435.42,281.05 433.50,281.30 C431.58,281.55 429.87,282.22 427.80,282.50 C425.73,282.78 423.18,283.07 421.10,283.00 C419.02,282.93 417.23,282.35 415.30,282.10 C413.37,281.85 411.42,281.73 409.50,281.50 C407.58,281.27 405.10,281.07 403.80,280.70 C402.50,280.33 401.70,279.75 401.70,279.30 Z" fill="#080808" stroke="#080808" stroke-width="1.3" stroke-linejoin="round" filter="url(#bl)"/>
<ellipse cx="379.8" cy="325.4" rx="5.8" ry="1.4" fill="#c4c4c4" filter="url(#bl2)"/>
<g filter="url(#bl)" fill="#080808">
<rect x="358.5" y="322.0" width="14.8" height="5.2" rx="2.5"/>
<rect x="416.2" y="322.0" width="13.6" height="4.6" rx="2.2"/>
</g>
<text x="456.20" y="282.00" font-size="7.6" font-weight="bold" text-anchor="start" textLength="20.2" lengthAdjust="spacingAndGlyphs" stroke="#000" stroke-width="0.25">Actin</text>
<text x="456.20" y="325.20" font-size="7.6" font-weight="bold" text-anchor="start" textLength="15.3" lengthAdjust="spacingAndGlyphs" stroke="#000" stroke-width="0.25">CyC</text>
</g>
</svg>
</body></html>
